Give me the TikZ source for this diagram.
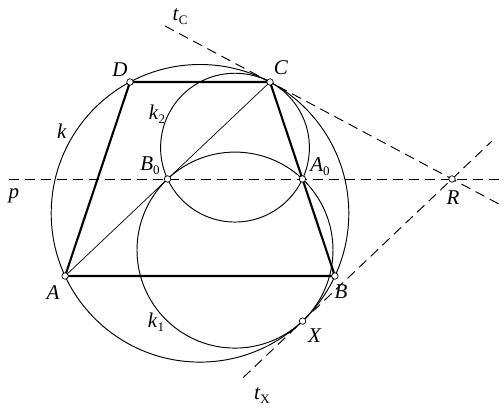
\documentclass[tikz,border=0pt]{standalone}
\usepackage{fontspec}
\setmainfont{Liberation Serif}
\newcommand{\sublab}[2]{\textit{#1}\raisebox{-4pt}{\fontsize{13}{13}\selectfont #2}}
\begin{document}
\begin{tikzpicture}[x=1pt,y=-1pt,
  lab/.style={font=\fontsize{21}{21}\selectfont, inner sep=0pt},
  thinline/.style={line width=0.95pt},
  thickline/.style={line width=2.1pt, line join=round},
  dline/.style={line width=0.95pt, dash pattern=on 10pt off 6pt},
  pt/.style={circle, draw, fill=white, inner sep=0pt, minimum size=6.5pt, line width=0.7pt}]
\useasboundingbox (0,0) rectangle (504,411);
% centres
\coordinate (O) at (200,213.3);
\coordinate (O1) at (235,250.1);
\coordinate (O2) at (235,147.65);
% dashed line ends
\coordinate (p1) at (9,179);
\coordinate (p2) at (504,179);
\coordinate (tc1) at (165,26);
\coordinate (tc2) at (499.6,204.4);
\coordinate (tx1) at (243.2,377.6);
\coordinate (tx2) at (491.9,141.1);
% points
\coordinate (A) at (65.1,276);
\coordinate (B) at (334.9,276);
\coordinate (C) at (270,82);
\coordinate (D) at (130,82);
\coordinate (B0) at (167.55,179);
\coordinate (A0) at (302.45,179);
\coordinate (X) at (302.6,321.1);
\coordinate (R) at (452,179);
% circles
\draw[thinline] (O) circle (148.8);
\draw[thinline] (O1) circle (98.0);
\draw[thinline] (O2) circle (74.4);
% dashed lines
\draw[dline] (p1) -- (p2);
\draw[dline] (tc1) -- (tc2);
\draw[dline] (tx1) -- (tx2);
% diagonal
\draw[line width=0.7pt] (A) -- (C);
% trapezoid
\draw[thickline] (A) -- (B) -- (C) -- (D) -- cycle;
% point markers
\foreach \n in {A,B,C,D,B0,A0,X,R} \node[pt] (m\n) at (\n) {};
% labels
\node[lab] (lA) at (53,293) {\textit{A}};
\node[lab] (lB) at (341,292) {\textit{B}};
\node[lab] (lC) at (281,68) {\textit{C}};
\node[lab] (lD) at (120,70) {\textit{D}};
\node[lab] (lX) at (315,336) {\textit{X}};
\node[lab] (lR) at (453,198) {\textit{R}};
\node[lab] (lp) at (14,196) {\textit{p}};
\node[lab] (lk) at (62,131) {\textit{k}};
\node[lab] (lk1) at (156,322) {\sublab{k}{1}};
\node[lab] (lk2) at (157,114) {\sublab{k}{2}};
\node[lab] (lB0) at (150,166) {\sublab{B}{0}};
\node[lab] (lA0) at (320,167) {\sublab{A}{0}};
\node[lab] (ltc) at (180,17) {\sublab{t}{C}};
\node[lab] (ltx) at (262,396) {\sublab{t}{X}};
\end{tikzpicture}
\end{document}
